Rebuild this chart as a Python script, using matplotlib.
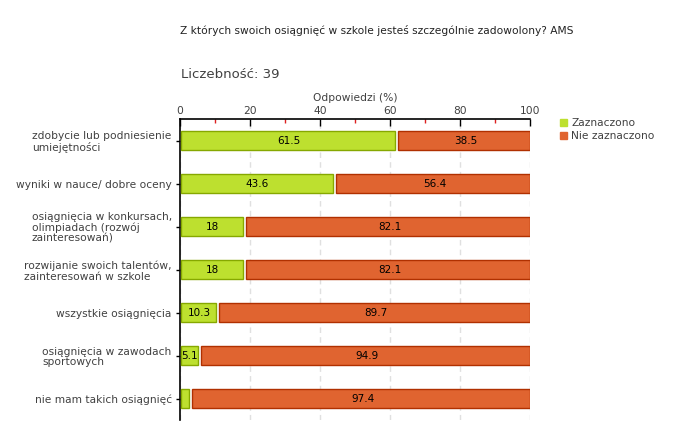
import numpy as np
import matplotlib
matplotlib.use("Agg")
import matplotlib.pyplot as plt

# data
categories = [
    "zdobycie lub podniesienie\numiejętności",
    "wyniki w nauce/ dobre oceny",
    "osiągnięcia w konkursach,\nolimpiadach (rozwój\nzainteresowań)",
    "rozwijanie swoich talentów,\nzainteresowań w szkole",
    "wszystkie osiągnięcia",
    "osiągnięcia w zawodach\nsportowych",
    "nie mam takich osiągnięć",
]
zaznaczono = [61.5, 43.6, 18, 18, 10.3, 5.1, 2.6]
nie_zaznaczono = [38.5, 56.4, 82.1, 82.1, 89.7, 94.9, 97.4]
labels_zazn = ["61.5", "43.6", "18", "18", "10.3", "5.1", ""]
labels_nie = ["38.5", "56.4", "82.1", "82.1", "89.7", "94.9", "97.4"]

GREEN, GREEN_EDGE = "#bde02f", "#86a800"
RED, RED_EDGE = "#e06430", "#b03000"
TXT = "#404040"
GAP = 0.9   # small visual gap between the two segments
PAD = 0.4   # bars start just right of the axis line

plt.rcParams["font.family"] = "DejaVu Sans"

fig = plt.figure(figsize=(6.8, 4.4), dpi=100)
ax = fig.add_axes([180 / 680, 1 - 420 / 440, 350 / 680, 301 / 440])

y = np.arange(len(categories))
h = 0.46
g = np.array(zaznaczono)
r = np.array(nie_zaznaczono)
ax.barh(y, g - PAD, left=PAD, height=h, color=GREEN, edgecolor=GREEN_EDGE, linewidth=1, zorder=3)
ax.barh(y, r - GAP, left=g + GAP, height=h,
        color=RED, edgecolor=RED_EDGE, linewidth=1, zorder=3)

for i in range(len(categories)):
    if labels_zazn[i]:
        ax.text(g[i] / 2 + 0.3, y[i], labels_zazn[i], ha="center", va="center",
                fontsize=7.5, color="black", zorder=4)
    ax.text(g[i] + GAP + r[i] / 2, y[i], labels_nie[i], ha="center",
            va="center", fontsize=7.5, color="black", zorder=4)

ax.set_xlim(0, 100)
ax.set_ylim(len(categories) - 0.5, -0.5)
ax.xaxis.tick_top()
ax.xaxis.set_label_position("top")
ax.set_xticks([0, 20, 40, 60, 80, 100])
ax.set_xticks([10, 30, 50, 70, 90], minor=True)
ax.tick_params(axis="x", which="major", direction="in", length=5, width=1, color="black",
               labelsize=7.7, labelcolor=TXT, pad=2)
ax.tick_params(axis="x", which="minor", direction="in", length=3, width=1, color="#dd2222")
ax.set_xlabel("Odpowiedzi (%)", fontsize=7.7, color=TXT, labelpad=4)

ax.set_yticks(y)
ax.set_yticklabels(categories, fontsize=7.7, color=TXT, multialignment="left",
                   linespacing=1.1)
ax.tick_params(axis="y", length=3, width=1, color="black", pad=3)

ax.grid(axis="x", color="#e0e0e0", linestyle=(0, (4, 3)), linewidth=1, zorder=0)
for s in ["right", "bottom"]:
    ax.spines[s].set_visible(False)
ax.spines["left"].set_linewidth(1.2)
ax.spines["top"].set_linewidth(1.2)

fig.text(180 / 680, 1 - 30 / 440, "Z których swoich osiągnięć w szkole jesteś szczególnie zadowolony? AMS",
         fontsize=7.7, color="#222222", va="center")
fig.text(181 / 680, 1 - 75 / 440, "Liczebność: 39", fontsize=9.5, color=TXT, va="center")

# legend
for k, (lab, col) in enumerate([("Zaznaczono", GREEN), ("Nie zaznaczono", RED)]):
    yy = 1 - (123 + 13 * k) / 440
    fig.patches.append(matplotlib.patches.Rectangle((560 / 680, yy - 3.5 / 440), 7 / 680, 7 / 440,
                                                    transform=fig.transFigure, color=col))
    fig.text(571 / 680, yy, lab, fontsize=7.7, color=TXT, va="center")

fig.savefig("out.png", dpi=100)
